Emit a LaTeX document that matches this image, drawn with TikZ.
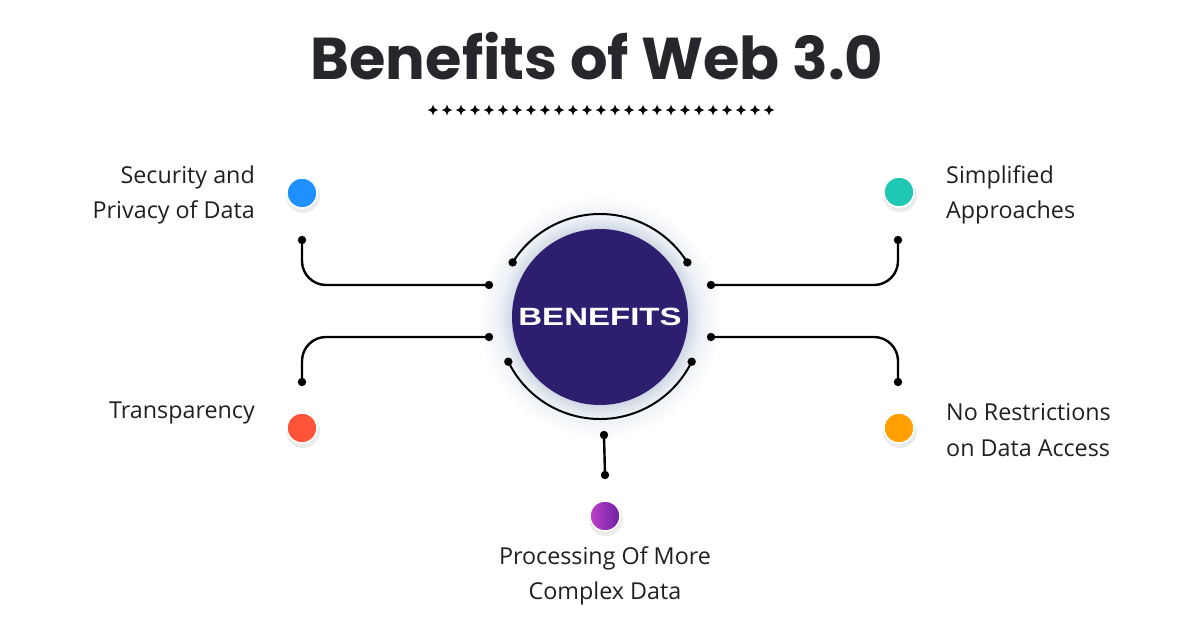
\documentclass[tikz,border=0pt]{standalone}
\usepackage{fontspec}
\setmainfont{Open Sans}
\newfontfamily\titlefont{Poppins}[UprightFont=* Bold]
\newfontfamily\benfont{Liberation Sans}[UprightFont=* Bold]
\usetikzlibrary{calc}
\definecolor{titlecol}{RGB}{38,39,43}
\definecolor{txtcol}{RGB}{35,31,32}
\definecolor{circcol}{RGB}{45,30,112}
\definecolor{glowcol}{RGB}{208,216,228}
\definecolor{glowmid}{RGB}{236,240,245}
\definecolor{cblue}{RGB}{30,144,255}
\definecolor{cteal}{RGB}{30,200,180}
\definecolor{cred}{RGB}{255,84,58}
\definecolor{corange}{RGB}{255,160,0}
\definecolor{cpurpA}{RGB}{192,64,204}
\definecolor{cpurpB}{RGB}{108,32,160}
\pgfdeclareradialshading{glow}{\pgfpoint{0bp}{0bp}}{%
  color(0bp)=(glowcol); color(18bp)=(glowcol); color(20.5bp)=(glowmid); color(25bp)=(white); color(50bp)=(white)}
\tikzset{
  conn/.style={line width=2.4pt, line cap=round, draw=black},
  lbl/.style={font=\fontsize{23.3}{35.5}\selectfont, text=txtcol, inner sep=0pt},
  bullet/.style={circle, fill=#1, draw=white, line width=1.5pt, minimum size=30pt, inner sep=0pt},
}
\begin{document}
\begin{tikzpicture}[x=1pt,y=-1pt]
\useasboundingbox (0,0) rectangle (1200,627);
\fill[white] (0,0) rectangle (1200,627);
% title
\node[font=\titlefont\fontsize{59}{66}\selectfont, text=titlecol, inner sep=0pt] (title) at (597,56) {Benefits of Web 3.0};
% stars
\foreach \i in {0,...,24}{
  \coordinate (st\i) at ({433+14*\i},110);
  \fill[black] ($(st\i)+(0,-5.5)$) .. controls ($(st\i)+(1.3,-1.3)$) .. ($(st\i)+(5.5,0)$)
     .. controls ($(st\i)+(1.3,1.3)$) .. ($(st\i)+(0,5.5)$)
     .. controls ($(st\i)+(-1.3,1.3)$) .. ($(st\i)+(-5.5,0)$)
     .. controls ($(st\i)+(-1.3,-1.3)$) .. cycle;
}
% center circle with glow
\coordinate (c) at (600,317);
\shade[shading=glow] (c) circle (122pt);
\node[circle, fill=circcol, minimum size=176pt, inner sep=0pt] (ben) at (c)
  {\benfont\fontsize{25}{25}\selectfont\color{white}\scalebox{1.32}[1]{BENEFITS}};
% arcs
\coordinate (atl) at ($(c)+(148:103pt)$);
\coordinate (atr) at ($(c)+(32:103pt)$);
\coordinate (abl) at ($(c)+(206:102pt)$);
\coordinate (abr) at ($(c)+(334:102pt)$);
\draw[conn, line width=2pt] (atl) arc[start angle=148, end angle=32, radius=103pt];
\draw[conn, line width=2pt] (abl) arc[start angle=206, end angle=334, radius=102pt];
% connectors
\coordinate (l1a) at (489,285); \coordinate (l1b) at (302,240);
\coordinate (l2a) at (489,337); \coordinate (l2b) at (302,382);
\coordinate (r1a) at (711,285); \coordinate (r1b) at (898,240);
\coordinate (r2a) at (711,337); \coordinate (r2b) at (898,382);
\coordinate (ba) at (604,435); \coordinate (bb) at (605,475);
\draw[conn, rounded corners=24pt] (l1a) -| (l1b);
\draw[conn, rounded corners=24pt] (l2a) -| (l2b);
\draw[conn, rounded corners=24pt] (r1a) -| (r1b);
\draw[conn, rounded corners=24pt] (r2a) -| (r2b);
\draw[conn] (ba) -- (bb);
\foreach \p in {atl,atr,abl,abr,l1a,l1b,l2a,l2b,r1a,r1b,r2a,r2b,ba,bb}{
  \fill (\p) circle (4.2pt);
}
% bullets
\foreach \p/\q in {302/193, 302/428, 899/192, 899/428, 605/516}{
  \fill[black!8] (\p+1,\q+3) circle (17pt);
}
\node[bullet=cblue] (b1) at (302,193) {};
\node[bullet=cred] (b2) at (302,428) {};
\node[bullet=cteal] (b3) at (899,192) {};
\node[bullet=corange] (b4) at (899,428) {};
\node[bullet=cpurpA, left color=cpurpA, right color=cpurpB] (b5) at (605,516) {};
% labels
\node[lbl, anchor=east, align=right] (t1) at (255,195) {Security and\\Privacy of Data};
\node[lbl, anchor=east, align=right] (t2) at (255,413) {Transparency};
\node[lbl, anchor=west, align=left] (t3) at (946,195) {Simplified\\Approaches};
\node[lbl, anchor=west, align=left] (t4) at (946,430) {No Restrictions\\on Data Access};
\node[lbl, align=center] (t5) at (605,576) {Processing Of More\\Complex Data};
\end{tikzpicture}
\end{document}
